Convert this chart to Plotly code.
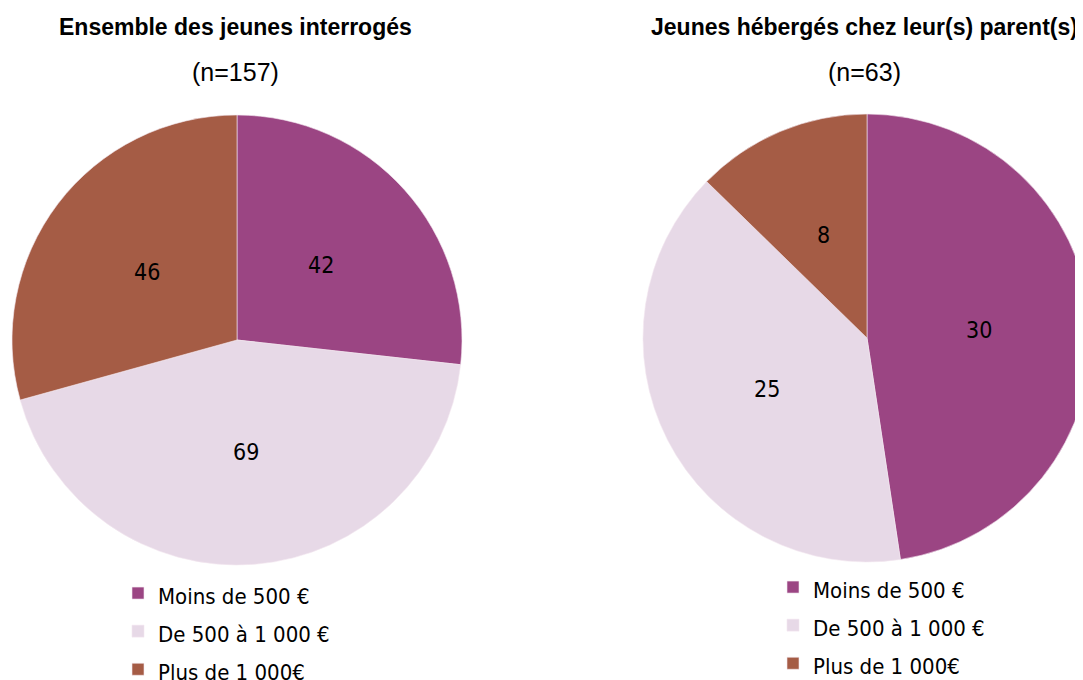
import math
import plotly.graph_objects as go

categories = ["Moins de 500 €", "De 500 à 1 000 €", "Plus de 1 000€"]
values_all = [42, 69, 46]
values_parents = [30, 25, 8]
title_all = "Ensemble des jeunes interrogés"
sub_all = "(n=157)"
title_parents = "Jeunes hébergés chez leur(s) parent(s)"
sub_parents = "(n=63)"
colors = ["#9B4583", "#E7D9E7", "#A55C45"]

W, H = 1083, 680
OFF = 8  # default page body margin
NARROW = "DejaVu Sans Condensed, Liberation Sans Narrow, Arial Narrow, sans-serif"
BOLD = "Liberation Sans, Arial, sans-serif"


def px_x(v):
    return (v - OFF) / W


def px_y(v):
    return 1 - (v - OFF) / H


# pie boxes in screen pixels (left, top, right, bottom)
boxes = [(12, 115, 462, 565), (643, 114, 1091, 562)]
legends = ["legend", "legend2"]

fig = go.Figure()
annotations = []
for i, (vals, box) in enumerate(zip([values_all, values_parents], boxes)):
    l, t, r, b = box
    labels = ['<span style="font-size:%spx">%s</span>' % ("22" if i == 0 else "22.0", c)
              for c in categories]
    fig.add_trace(go.Pie(
        labels=labels, values=vals, sort=False, direction="clockwise", rotation=0,
        marker=dict(colors=colors, line=dict(color="#F4E8F0", width=0.6)),
        textinfo="none",
        domain=dict(x=[max(0.0, px_x(l)), min(1.0, px_x(r))], y=[px_y(b), px_y(t)]),
        legend=legends[i],
        customdata=categories, hovertemplate="%{customdata}: %{value}<extra></extra>",
    ))
    # value labels at half radius along each slice's mid-angle (from the data)
    cx = (l + r) / 2
    cy = (t + b) / 2
    rad = min(r - l, b - t) / 2
    total = sum(vals)
    cum = 0
    for v in vals:
        mid = (cum + v / 2) / total * 2 * math.pi
        cum += v
        x = cx + 0.5 * rad * math.sin(mid)
        y = cy - 0.5 * rad * math.cos(mid)
        annotations.append(dict(
            text=str(v), x=px_x(x), y=px_y(y), xref="paper", yref="paper",
            xanchor="center", yanchor="middle", showarrow=False,
            font=dict(family=NARROW, size=23, color="black"),
        ))

for text, cx, cy, bold in [(title_all, 235, 27, True), (sub_all, 235, 72, False),
                           (title_parents, 864, 27, True), (sub_parents, 864, 72, False)]:
    annotations.append(dict(
        text=("<b>%s</b>" % text) if bold else text,
        x=px_x(cx), y=px_y(cy), xref="paper", yref="paper",
        xanchor="center", yanchor="middle", showarrow=False,
        font=dict(family=BOLD, size=23 if bold else 25, color="black"),
    ))

legend_common = dict(
    font=dict(family=NARROW, size=27, color="black"),
    bgcolor="rgba(0,0,0,0)", traceorder="normal",
    xanchor="left", yanchor="top", itemclick=False, itemdoubleclick=False,
)
fig.update_layout(
    width=W, height=H,
    margin=dict(l=0, r=0, t=0, b=0, autoexpand=False),
    paper_bgcolor="white", plot_bgcolor="white",
    legend=dict(x=px_x(118), y=px_y(569), **legend_common),
    legend2=dict(x=px_x(773), y=px_y(563), **legend_common),
    annotations=annotations,
)

fig.write_html("out.html")
